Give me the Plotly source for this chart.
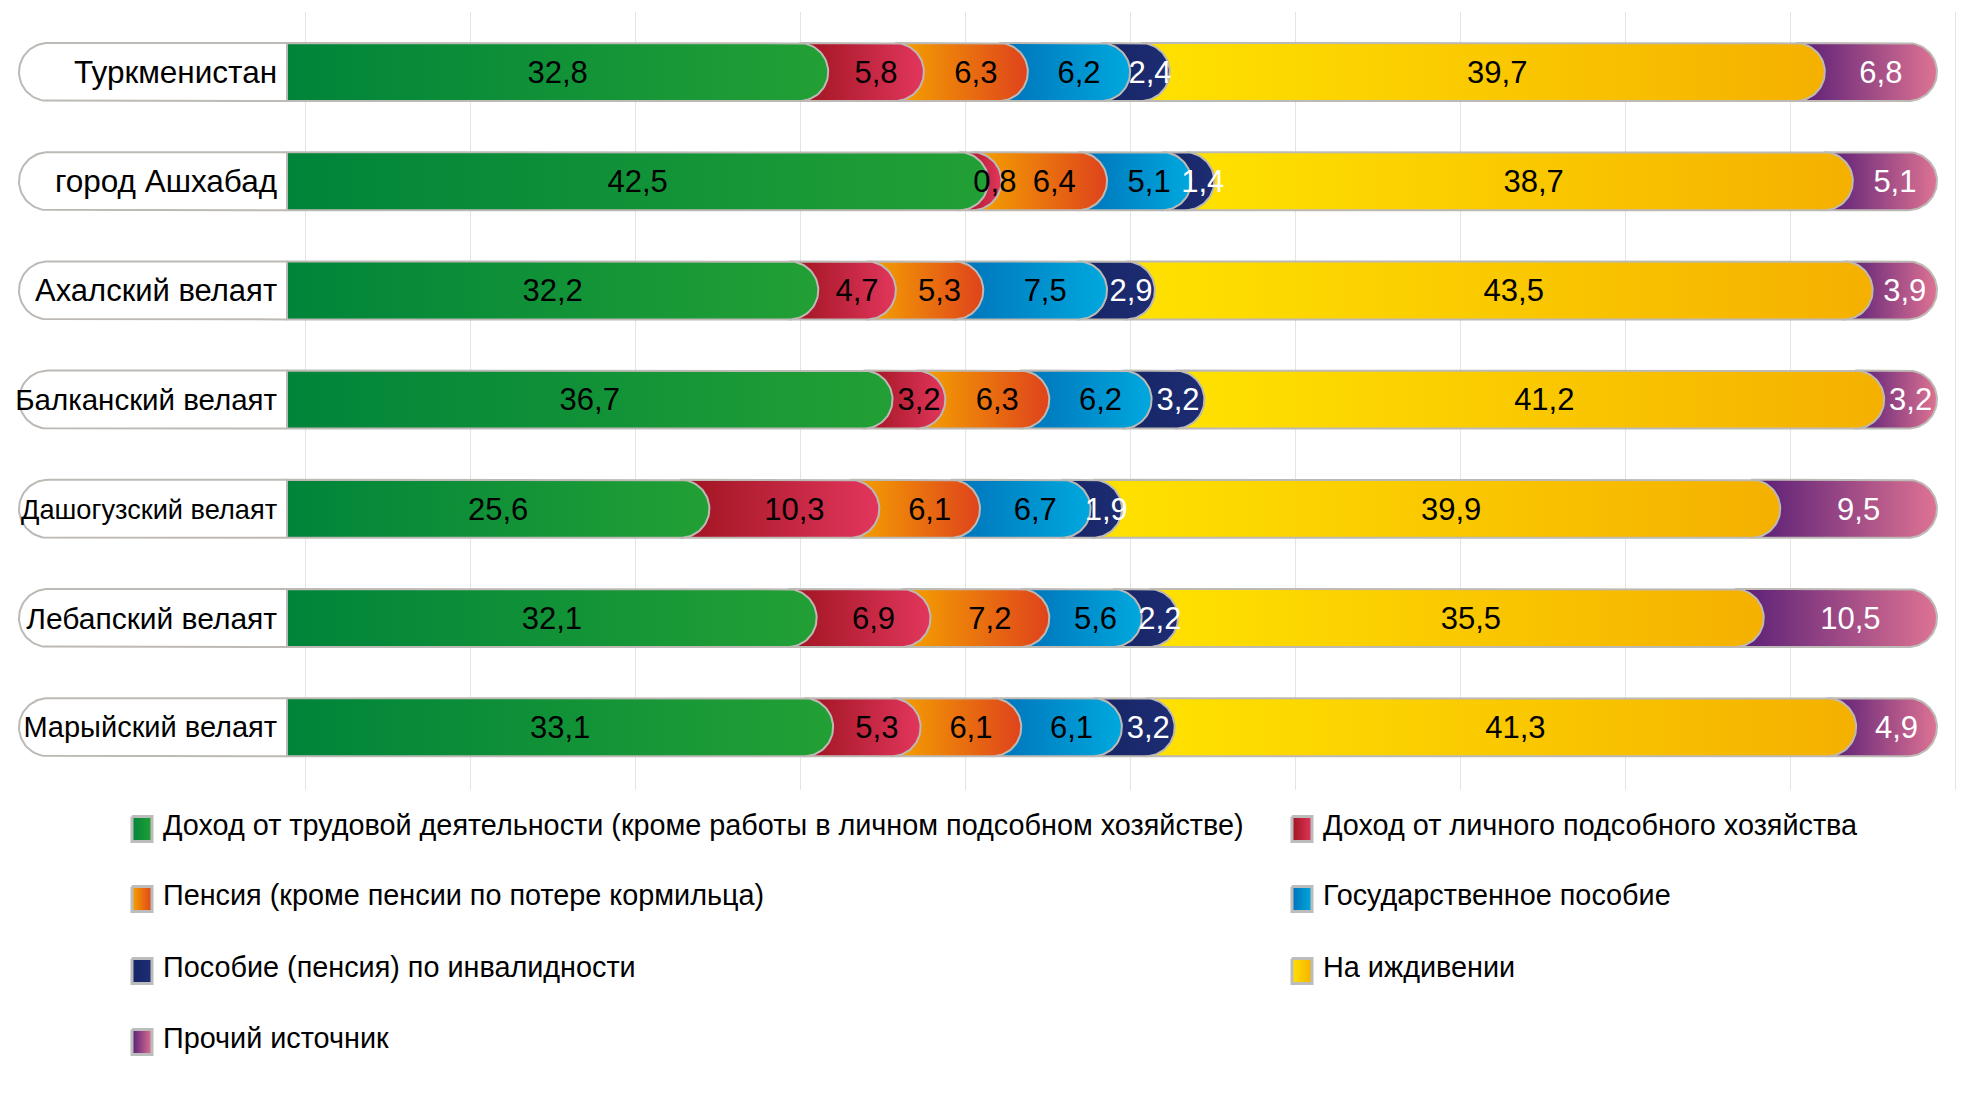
import numpy as np
import plotly.graph_objects as go

# ---------------- data ----------------
regions = ["Туркменистан", "город Ашхабад", "Ахалский велаят", "Балканский велаят",
           "Дашогузский велаят", "Лебапский велаят", "Марыйский велаят"]
categories = ["Доход от трудовой деятельности (кроме работы в личном подсобном хозяйстве)",
              "Доход от личного подсобного хозяйства",
              "Пенсия (кроме пенсии по потере кормильца)",
              "Государственное пособие",
              "Пособие (пенсия) по инвалидности",
              "На иждивении",
              "Прочий источник"]
labor = [32.8, 42.5, 32.2, 36.7, 25.6, 32.1, 33.1]
farm = [5.8, 0.8, 4.7, 3.2, 10.3, 6.9, 5.3]
pension = [6.3, 6.4, 5.3, 6.3, 6.1, 7.2, 6.1]
allowance = [6.2, 5.1, 7.5, 6.2, 6.7, 5.6, 6.1]
disability = [2.4, 1.4, 2.9, 3.2, 1.9, 2.2, 3.2]
dependent = [39.7, 38.7, 43.5, 41.2, 39.9, 35.5, 41.3]
other = [6.8, 5.1, 3.9, 3.2, 9.5, 10.5, 4.9]
series = [labor, farm, pension, allowance, disability, dependent, other]

# ---------------- styles ----------------
gradients = [["#00843a", "#22a035"], ["#9e1420", "#e2365c"], ["#f5a400", "#df431c"],
             ["#0072ba", "#00a8de"], ["#152565", "#1e2d73"], ["#ffe200", "#f5b000"],
             ["#561d76", "#de7393"]]
label_colors = ["black", "black", "black", "black", "white", "black", "white"]
region_font_sizes = [31.5, 31.5, 31, 29.5, 27.2, 30, 29]
OUTLINE = "#bdb9b5"
FONT = "Liberation Sans, Arial, sans-serif"

# page / layout geometry (target pixels)
OX, OY = 8, 8
W, H = 1956, 1077
X0_PX, PX_PER_UNIT = 287, 16.5
ROW0_PX, ROW_STEP = 72, 109.2
BAR_HALF_PX = 29
GRID_TOP, GRID_BOTTOM = 12, 790
BOX_LEFT_PX = 19
TEXT_SHIFT = 3 / ROW_STEP

rx = BAR_HALF_PX / PX_PER_UNIT
hy = BAR_HALF_PX / ROW_STEP
box_left = (BOX_LEFT_PX - X0_PX) / PX_PER_UNIT

fig = go.Figure()
t = np.linspace(-np.pi / 2, np.pi / 2, 40)
tl = np.linspace(np.pi / 2, 3 * np.pi / 2, 40)

# label boxes (rounded left end)
for r, name in enumerate(regions):
    cx = box_left + rx
    xs = [0, cx] + list(cx + rx * np.cos(tl)) + [cx, 0, 0]
    ys = [r + hy, r + hy] + list(r + hy * np.sin(tl)) + [r - hy, r - hy, r + hy]
    fig.add_trace(go.Scatter(x=xs, y=ys, fill="toself", fillcolor="white", mode="lines",
                             line=dict(color=OUTLINE, width=2), hoverinfo="skip", showlegend=False))

# segments
for r in range(len(regions)):
    vals = [s[r] for s in series]
    cum = np.cumsum(vals)
    starts = np.concatenate([[0], cum[:-1]])
    for c in reversed(range(len(series))):
        s, e = starts[c], cum[c]
        xl = s if c == 0 else s - rx
        cx = e - rx
        xs = [xl, cx] + list(cx + rx * np.cos(t)) + [cx, xl, xl]
        ys = [r - hy, r - hy] + list(r + hy * np.sin(t)) + [r + hy, r + hy, r - hy]
        fig.add_trace(go.Scatter(
            x=xs, y=ys, fill="toself", mode="lines",
            line=dict(color=OUTLINE, width=2),
            fillgradient=dict(type="horizontal",
                              colorscale=[[0, gradients[c][0]], [1, gradients[c][1]]]),
            hoverinfo="skip", showlegend=False))

# value labels
for c, s in enumerate(series):
    xs, ys, txt = [], [], []
    for r in range(len(regions)):
        vals = [ss[r] for ss in series]
        start = sum(vals[:c])
        xs.append(start + s[r] / 2)
        ys.append(r + TEXT_SHIFT)
        txt.append(f"{s[r]:.1f}".replace(".", ","))
    fig.add_trace(go.Scatter(x=xs, y=ys, mode="text", text=txt, textposition="middle center",
                             textfont=dict(family=FONT, size=31, color=label_colors[c]),
                             hoverinfo="skip", showlegend=False))

# region labels
fig.add_trace(go.Scatter(x=[-0.6] * len(regions), y=[r + TEXT_SHIFT for r in range(len(regions))],
                         mode="text", text=regions, textposition="middle left", cliponaxis=False,
                         textfont=dict(family=FONT, size=region_font_sizes, color="black"),
                         hoverinfo="skip", showlegend=False))

# legend (manual, second axes in target pixel coordinates)
leg_x = [132, 1292]
leg_y = [829, 899, 971, 1042]
SW, SH = 20, 25
for i, cat in enumerate(categories):
    col, row = i % 2, i // 2
    x0, yc = leg_x[col], leg_y[row]
    fig.add_trace(go.Scatter(
        x=[x0, x0 + SW, x0 + SW, x0, x0], y=[yc - SH / 2, yc - SH / 2, yc + SH / 2, yc + SH / 2, yc - SH / 2],
        fill="toself", mode="lines", line=dict(color="#bcbcbc", width=3),
        fillgradient=dict(type="horizontal", colorscale=[[0, gradients[i][0]], [1, gradients[i][1]]]),
        xaxis="x2", yaxis="y2", hoverinfo="skip", showlegend=False))
    fig.add_annotation(x=x0 + SW + 9, y=yc - 4, xref="x2", yref="y2", text=cat, showarrow=False,
                       xanchor="left", yanchor="middle",
                       font=dict(family=FONT, size=28.8, color="black"))

x_range = [(OX - X0_PX) / PX_PER_UNIT, (OX + W - X0_PX) / PX_PER_UNIT]
grid_vals = [1.15 + 10 * k for k in range(11)]

fig.update_layout(
    width=W, height=H, autosize=False,
    margin=dict(l=0, r=0, t=0, b=0, pad=0),
    paper_bgcolor="white", plot_bgcolor="rgba(0,0,0,0)",
    showlegend=False,
    xaxis=dict(range=x_range, domain=[0, 1], tickmode="array", tickvals=grid_vals,
               showgrid=True, gridcolor="#e4e4e4", gridwidth=1, showticklabels=False,
               ticks="", zeroline=False, showline=False, fixedrange=True),
    yaxis=dict(range=[(GRID_BOTTOM - ROW0_PX) / ROW_STEP, (GRID_TOP - ROW0_PX) / ROW_STEP],
               domain=[1 - (GRID_BOTTOM - OY) / H, 1 - (GRID_TOP - OY) / H],
               visible=False, fixedrange=True),
    xaxis2=dict(range=[OX, OX + W], domain=[0, 1], anchor="y2", visible=False, fixedrange=True),
    yaxis2=dict(range=[OY + H, OY], domain=[0, 1], anchor="x2", visible=False, fixedrange=True),
)

fig.write_html("out.html")
